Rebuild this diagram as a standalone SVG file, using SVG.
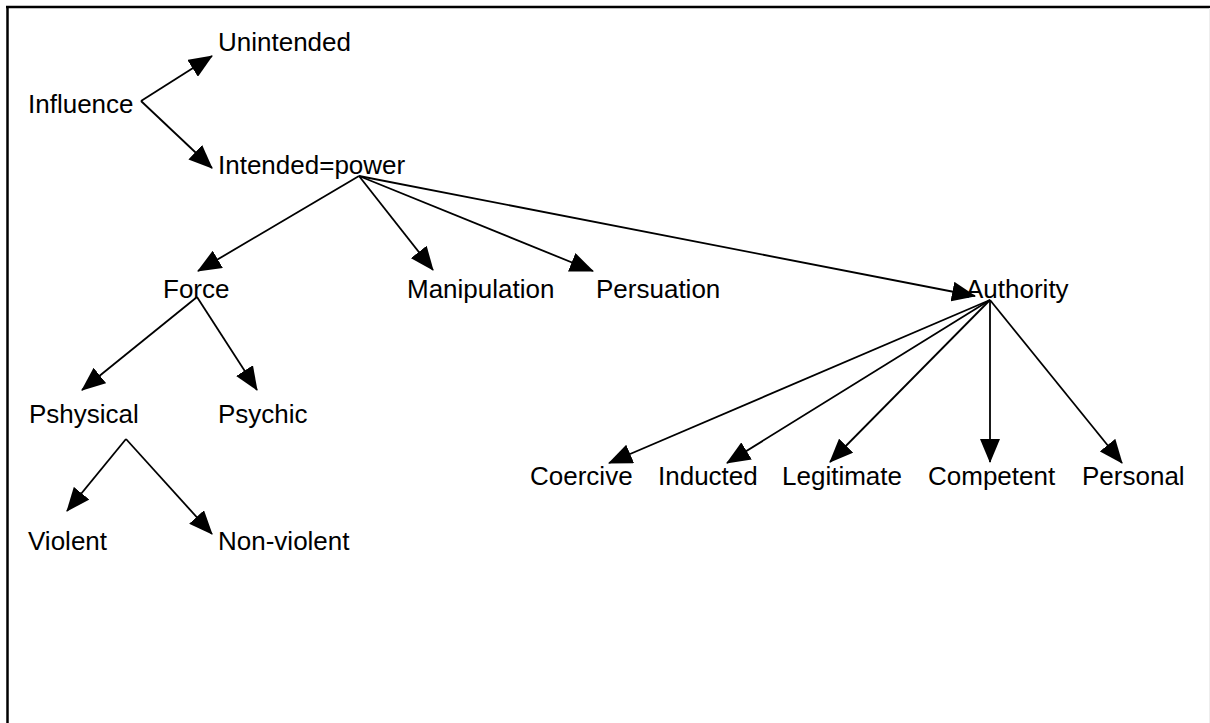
<svg xmlns="http://www.w3.org/2000/svg" width="1210" height="723" viewBox="0 0 1210 723">
<defs>
<style>
text{font-family:"Liberation Sans",Arial,sans-serif;font-size:26px;fill:#000}
.c line{stroke:#000;stroke-width:1.8;marker-end:url(#ah)}
</style>
<marker id="ah" markerUnits="userSpaceOnUse" markerWidth="24" markerHeight="20" viewBox="0 0 24 20" refX="23" refY="10" orient="auto">
<path d="M0,0 L24,10 L0,20 z" fill="#000"/>
</marker>
</defs>
<rect width="1210" height="723" fill="#fff"/>
<g id="frame" fill="none">
<line x1="6" y1="7" x2="1210" y2="7" stroke="#000" stroke-width="2.5"/>
<line x1="7.5" y1="6" x2="7.5" y2="723" stroke="#000" stroke-width="2.5"/>
<line x1="1209.5" y1="8" x2="1209.5" y2="723" stroke="#eee" stroke-width="1"/>
</g>
<g class="c" id="connectors">
<line x1="141" y1="101" x2="212" y2="56"/>
<line x1="141" y1="101" x2="212" y2="168"/>
<line x1="359" y1="176" x2="198" y2="271"/>
<line x1="359" y1="176" x2="433" y2="270"/>
<line x1="359" y1="176" x2="593" y2="271"/>
<line x1="359" y1="176" x2="975" y2="296"/>
<line x1="197" y1="297" x2="82" y2="390"/>
<line x1="197" y1="297" x2="257" y2="390"/>
<line x1="126" y1="439" x2="67" y2="511"/>
<line x1="126" y1="439" x2="212" y2="534"/>
<line x1="990" y1="300" x2="609" y2="463"/>
<line x1="990" y1="300" x2="727" y2="463"/>
<line x1="990" y1="300" x2="830" y2="462"/>
<line x1="990" y1="300" x2="990" y2="462"/>
<line x1="990" y1="300" x2="1122" y2="463"/>
</g>
<g id="n-influence"><text x="28" y="113">Influence</text></g>
<g id="n-unintended"><text x="218" y="51">Unintended</text></g>
<g id="n-intended"><text x="218" y="174">Intended=power</text></g>
<g id="n-force"><text x="163" y="298">Force</text></g>
<g id="n-manipulation"><text x="407" y="298">Manipulation</text></g>
<g id="n-persuation"><text x="596" y="298">Persuation</text></g>
<g id="n-authority"><text x="966" y="298">Authority</text></g>
<g id="n-pshysical"><text x="29" y="423">Pshysical</text></g>
<g id="n-psychic"><text x="218" y="423">Psychic</text></g>
<g id="n-violent"><text x="28" y="550">Violent</text></g>
<g id="n-nonviolent"><text x="218" y="550">Non-violent</text></g>
<g id="n-coercive"><text x="530" y="485">Coercive</text></g>
<g id="n-inducted"><text x="658" y="485">Inducted</text></g>
<g id="n-legitimate"><text x="782" y="485">Legitimate</text></g>
<g id="n-competent"><text x="928" y="485">Competent</text></g>
<g id="n-personal"><text x="1082" y="485">Personal</text></g>
</svg>
